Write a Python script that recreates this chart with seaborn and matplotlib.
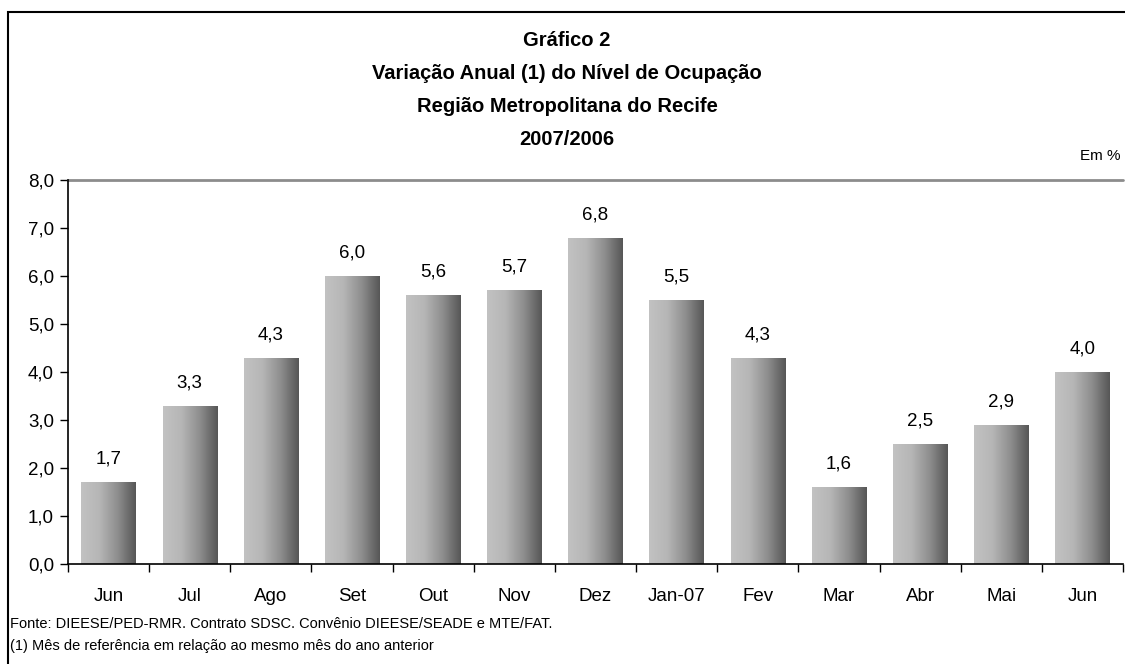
import numpy as np
import pandas as pd
import seaborn as sns
import matplotlib.pyplot as plt
from matplotlib.patches import Rectangle
from matplotlib.colors import LinearSegmentedColormap

meses = ['Jun', 'Jul', 'Ago', 'Set', 'Out', 'Nov', 'Dez', 'Jan-07', 'Fev', 'Mar', 'Abr', 'Mai', 'Jun']
variacao = [1.7, 3.3, 4.3, 6.0, 5.6, 5.7, 6.8, 5.5, 4.3, 1.6, 2.5, 2.9, 4.0]

titulo = ['Gráfico 2', 'Variação Anual (1) do Nível de Ocupação',
          'Região Metropolitana do Recife', '2007/2006']
fonte = 'Fonte: DIEESE/PED-RMR. Contrato SDSC. Convênio DIEESE/SEADE e MTE/FAT.'
nota = '(1) Mês de referência em relação ao mesmo mês do ano anterior'

sns.set_style('white')
plt.rcParams['font.family'] = ['Liberation Sans', 'DejaVu Sans']
plt.rcParams['text.color'] = 'black'
plt.rcParams['xtick.color'] = 'black'
plt.rcParams['ytick.color'] = 'black'

df = pd.DataFrame({'pos': range(len(meses)), 'valor': variacao})

fig = plt.figure(figsize=(11.25, 6.64), dpi=100)
ax = fig.add_axes([68 / 1125, 1 - 564 / 664, (1123 - 68) / 1125, 384 / 664])

sns.barplot(data=df, x='pos', y='valor', ax=ax, width=0.67, color='#999999',
            saturation=1)

# gradient fill, light on the left, dark on the right
cmap = LinearSegmentedColormap.from_list('cinza', ['#c2c2c2', '#b6b6b6', '#8e8e8e', '#565656'])
grad = np.linspace(0, 1, 256).reshape(1, -1)
for p in ax.patches:
    x0, y0 = p.get_x(), p.get_y()
    w, h = p.get_width(), p.get_height()
    im = ax.imshow(grad, cmap=cmap, aspect='auto', extent=[x0, x0 + w, y0, y0 + h],
                   interpolation='bilinear', zorder=2)
    im.set_clip_path(p)
    p.set_facecolor('none')
    p.set_edgecolor('none')

for i, v in enumerate(variacao):
    ax.text(i, v + 0.3, f'{v:.1f}'.replace('.', ','), ha='center', va='bottom', fontsize=13.5)

ax.set_xlim(-0.5, len(meses) - 0.5)
ax.set_ylim(0, 8)
ax.set_yticks(np.arange(0, 8.1, 1))
ax.set_yticklabels([f'{t:.1f}'.replace('.', ',') for t in np.arange(0, 8.1, 1)], fontsize=13.5)
ax.set_xticks(range(len(meses)))
ax.set_xticklabels(meses, fontsize=13.5)
ax.set_xticks(np.arange(-0.5, len(meses), 1), minor=True)
ax.tick_params(axis='x', which='major', length=0, pad=17)
ax.tick_params(axis='x', which='minor', length=6, width=1, direction='out', bottom=True)
ax.tick_params(axis='y', length=6, width=1, direction='out', left=True, pad=4)
ax.set_xlabel('')
ax.set_ylabel('')

ax.axhline(8, color='#8c8c8c', lw=2, zorder=1, clip_on=False)
for s in ['top', 'right']:
    ax.spines[s].set_visible(False)
for s in ['left', 'bottom']:
    ax.spines[s].set_color('black')
    ax.spines[s].set_linewidth(1.2)

for k, linha in enumerate(titulo):
    fig.text(567 / 1125, 1 - (41 + 32.7 * k) / 664, linha, ha='center', va='center',
             fontsize=14.5, fontweight='bold')
fig.text(1120 / 1125, 1 - 156 / 664, 'Em %', ha='right', va='center', fontsize=11)
fig.text(10 / 1125, 1 - 624 / 664, fonte, ha='left', va='center', fontsize=10.5)
fig.text(10 / 1125, 1 - 646 / 664, nota, ha='left', va='center', fontsize=10.5)

fig.patches.append(Rectangle((8 / 1125, -0.05), 1.1, 1 - 12 / 664 + 0.05,
                             transform=fig.transFigure, fill=False,
                             edgecolor='black', lw=1.5, zorder=0))

fig.savefig('out.png', dpi=100)
